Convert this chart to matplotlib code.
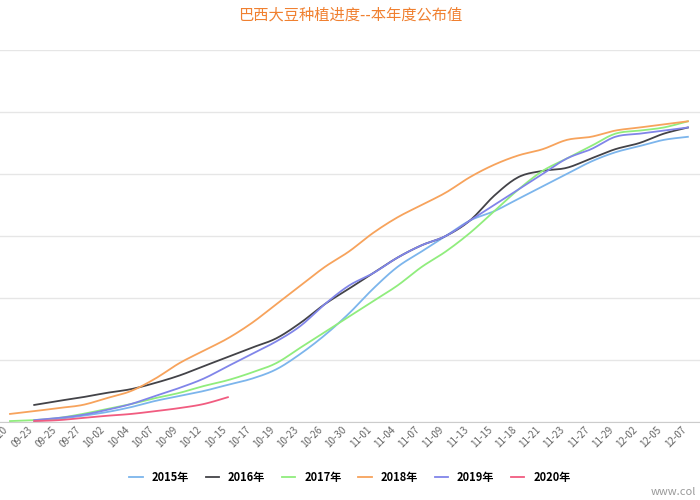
import matplotlib
matplotlib.use("Agg")
import matplotlib.pyplot as plt
import numpy as np

plt.rcParams['font.family'] = ['Noto Sans CJK SC', 'DejaVu Sans']

dates = ["09-20","09-23","09-25","09-27","10-02","10-04","10-07","10-09","10-12","10-15",
         "10-17","10-19","10-23","10-26","10-30","11-01","11-04","11-07","11-09","11-13",
         "11-15","11-18","11-21","11-23","11-27","11-29","12-02","12-05","12-07"]
s2015 = [None,0.3,1,2,3.2,4.8,6.8,8.4,10,12,14,17,22,28,35,43,50,55,60,65,68,72,76,80,84,87,89,91,92]
s2016 = [None,5.5,6.8,8,9.4,10.6,12.6,15,18,21,24,27,32,38,43,48,53,57,60,65,73,79,81,82,85,88,90,93,95]
s2017 = [0.3,0.6,1.3,2.6,4.2,5.8,7.7,9.4,11.6,13.5,16,19,24,29,34,39,44,50,55,61,68,75,81,85,89,93,94,95,97]
s2018 = [2.6,3.5,4.5,5.5,7.7,10,14,19,23,27,32,38,44,50,55,61,66,70,74,79,83,86,88,91,92,94,95,96,97]
s2019 = [None,0.6,1.3,2.3,3.9,5.8,8.4,11,14,18,22,26,31,38,44,48,53,57,60,65,70,75,80,85,88,92,93,94,95]
s2020 = [None,0.3,0.6,1.3,2,2.6,3.5,4.5,5.8,8]
series = [("2015年", s2015, "#7cb5ec"), ("2016年", s2016, "#434348"), ("2017年", s2017, "#90ed7d"),
          ("2018年", s2018, "#f7a35c"), ("2019年", s2019, "#8085e9"), ("2020年", s2020, "#f15c80")]

def smooth(x, y, n=12):
    x = np.asarray(x, float); y = np.asarray(y, float)
    if len(x) < 3:
        return x, y
    xs, ys = [], []
    P = np.column_stack([x, y])
    P = np.vstack([P[0], P, P[-1]])
    for i in range(1, len(P) - 2):
        p0, p1, p2, p3 = P[i-1], P[i], P[i+1], P[i+2]
        for t in np.linspace(0, 1, n, endpoint=False):
            t2, t3 = t*t, t*t*t
            pt = 0.5*((2*p1) + (-p0+p2)*t + (2*p0-5*p1+4*p2-p3)*t2 + (-p0+3*p1-3*p2+p3)*t3)
            xs.append(pt[0]); ys.append(pt[1])
    xs.append(P[-2][0]); ys.append(P[-2][1])
    return np.array(xs), np.array(ys)

fig = plt.figure(figsize=(7, 5), dpi=100)
ax = fig.add_axes([0, 0.156, 1, 0.744])
for name, vals, c in series:
    idx = [i for i, v in enumerate(vals) if v is not None]
    v = [vals[i] for i in idx]
    xs, ys = smooth(idx, v)
    ax.plot(xs, ys, color=c, lw=1.3, label=name)

ax.set_xlim(-0.413, 28.5)
ax.set_ylim(0, 120)
ax.set_yticks(range(0, 121, 20))
ax.yaxis.grid(True, color="#e6e6e6", lw=1)
ax.tick_params(axis='y', length=0, labelleft=False)
ax.set_xticks(range(len(dates)))
ax.set_xticklabels(dates, rotation=45, ha='right', fontsize=7, color="#666666")
ax.tick_params(axis='x', length=0, pad=2)
for s in ['top', 'right', 'left']:
    ax.spines[s].set_visible(False)
ax.spines['bottom'].set_color("#cccccc")

fig.text(0.5, 0.97, "巴西大豆种植进度--本年度公布值", ha='center', va='center',
         color="#f08030", fontsize=11)
fig.legend(loc='center', bbox_to_anchor=(0.5, 0.046), ncol=6, frameon=False,
           handlelength=1.2, columnspacing=1.5, prop={'weight': 'bold', 'size': 8})
fig.text(0.93, 0.01, "www.col", color="#999999", fontsize=8)
fig.savefig("out.png", dpi=100)
